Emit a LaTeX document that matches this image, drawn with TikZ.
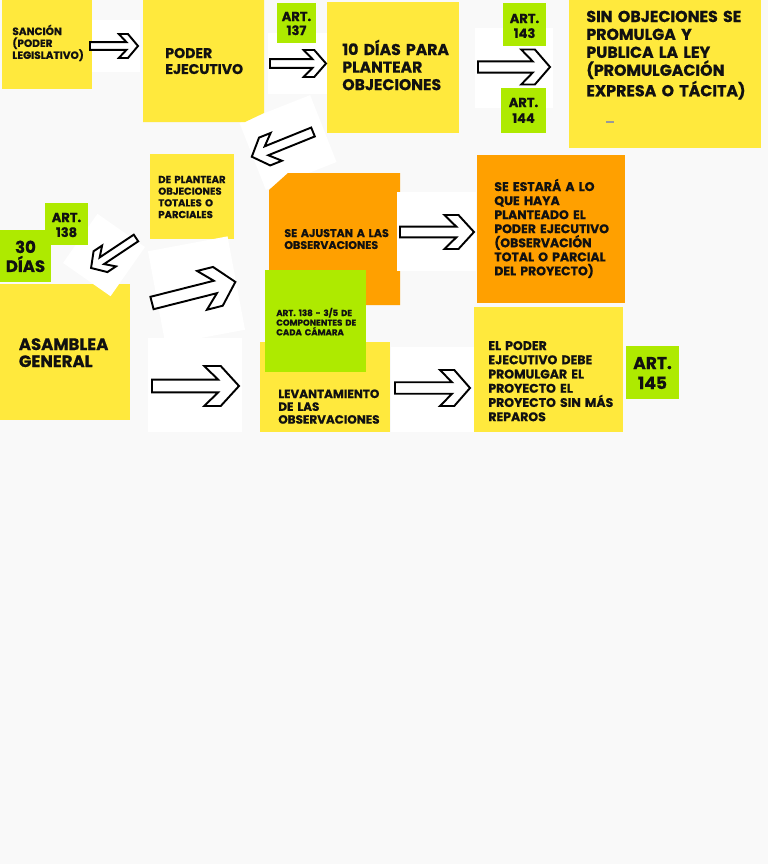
\documentclass[tikz,border=0pt]{standalone}
\usepackage{fontspec}
\setmainfont{Poppins}[BoldFeatures={FakeBold=0.7}]
\usepackage{tikz}

\definecolor{bg}{HTML}{F9F9F9}
\definecolor{yel}{HTML}{FFE93D}
\definecolor{org}{HTML}{FFA000}
\definecolor{grn}{HTML}{AEEA00}
\definecolor{ink}{HTML}{111111}

\tikzset{
  arrowline/.style={draw=black, fill=white, line width=1.1pt, line join=miter},
  lbl/.style={anchor=base west, inner sep=0pt, text width=6cm, align=left, text=ink},
  artlbl/.style={anchor=base, inner sep=0pt, text width=2cm, align=center, text=ink}
}

\begin{document}
\begin{tikzpicture}[scale=0.2]
\useasboundingbox (0,0) rectangle (76.8,-86.4);
\fill [bg] (0,0) rectangle (76.8,-86.4);
% notes under the patches
\fill [yel] (0,-28.4) rectangle (13.0,-42.0);
\fill [yel] (15.0,-15.4) rectangle (23.4,-23.9);
\fill [white, shift={(28.8,-14.25)}, rotate=21.5] (-3.8,-3.6) rectangle (3.8,3.6);
\fill [org] (26.9,-19.0) -- (28.8,-17.3) -- (40.0,-17.3) -- (40.0,-30.5) -- (26.9,-30.5) -- cycle;
% white patches
\fill [white] (8.8,-2.0) rectangle (14.0,-7.2);
\fill [white] (26.8,-3.3) rectangle (32.7,-9.4);
\fill [white] (47.5,-2.8) rectangle (55.3,-10.8);
\fill [white, shift={(10.4,-25.5)}, rotate=-35] (-2.9,-3.0) rectangle (2.9,3.0);
\fill [white, shift={(19.65,-29.05)}, rotate=10.6] (-4.05,-4.75) rectangle (4.05,4.75);
\fill [white] (14.8,-33.8) rectangle (24.2,-43.2);
\fill [white] (39.7,-19.2) rectangle (47.6,-27.1);
\fill [white] (39.1,-34.7) rectangle (47.4,-43.2);
% notes
\fill [yel] (0.2,0) rectangle (9.2,-8.9);
\fill [yel] (14.3,0) -- (26.4,0) -- (26.4,-11.3) -- (24.5,-12.2) -- (14.3,-12.2) -- cycle;
\fill [yel] (32.7,-0.2) rectangle (45.9,-13.3);
\fill [yel] (56.9,0) rectangle (76.1,-14.8);
\fill [org] (47.7,-15.5) rectangle (62.5,-30.3);
\fill [yel] (26.0,-34.2) rectangle (39.0,-43.2);
\fill [yel] (47.4,-30.7) rectangle (62.3,-43.2);
\fill [grn] (27.7,-0.3) rectangle (31.6,-4.3);
\fill [grn] (50.3,-0.3) rectangle (54.6,-4.6);
\fill [grn] (50.1,-8.8) rectangle (54.6,-13.3);
\fill [grn] (4.5,-20.3) rectangle (8.8,-24.5);
\fill [grn] (0,-23.0) rectangle (5.1,-28.2);
\fill [grn] (26.5,-27.0) rectangle (36.6,-37.2);
\fill [grn] (62.6,-34.6) rectangle (67.9,-39.9);
\draw [gray!80, line width=0.6pt] (60.6,-12.2) -- (61.4,-12.2);
% arrows: x/y of tail, angle, length, head height
\foreach \x/\y/\a/\l/\h in {9.0/-4.6/0/4.8/2.4, 27.0/-6.35/0/5.6/2.7, 47.8/-6.7/0/7.2/3.5,
    31.3/-13.2/202/6.6/3.0, 13.6/-23.8/213.7/5.4/2.5, 15.2/-30.3/14.2/8.6/4.0,
    15.2/-38.6/0/8.7/4.0, 40.0/-23.2/0/7.4/3.4, 39.5/-38.8/0/7.5/3.6}
  \draw [arrowline, shift={(\x,\y)}, rotate=\a, xscale=\l, yscale=\h]
    (0,0.16) -- (0.76,0.16) -- (0.6,0.5) -- (0.79,0.5) -- (1,0)
    -- (0.79,-0.5) -- (0.6,-0.5) -- (0.76,-0.16) -- (0,-0.16) -- cycle;
% texts
\node [lbl, font={\fontsize{6}{6.8}\selectfont\bfseries}] (sancion) at (1.2,-3.5) {SANCIÓN\\(PODER\\LEGISLATIVO)};
\node [lbl, font={\fontsize{8}{9.1}\selectfont\bfseries}] (poder) at (16.5,-5.8) {PODER\\EJECUTIVO};
\node [lbl, font={\fontsize{8.9}{10}\selectfont\bfseries}] (diez) at (34.2,-5.5) {10 DÍAS PARA\\PLANTEAR\\OBJECIONES};
\node [lbl, font={\fontsize{9}{10.2}\selectfont\bfseries}] (sinobj) at (58.6,-2.2) {SIN OBJECIONES SE\\PROMULGA Y\\PUBLICA LA LEY\\(PROMULGACIÓN\\EXPRESA O TÁCITA)};
\node [lbl, font={\fontsize{5.7}{6.65}\selectfont\bfseries}] (plantear) at (15.8,-18.3) {DE PLANTEAR\\OBJECIONES\\TOTALES O\\PARCIALES};
\node [lbl, font={\fontsize{6.3}{6.8}\selectfont\bfseries}] (ajustan) at (28.4,-23.7) {SE AJUSTAN A LAS\\OBSERVACIONES};
\node [lbl, font={\fontsize{7.1}{8}\selectfont\bfseries}] (estara) at (49.4,-19.1) {SE ESTARÁ A LO\\QUE HAYA\\PLANTEADO EL\\PODER EJECUTIVO\\(OBSERVACIÓN\\TOTAL O PARCIAL\\DEL PROYECTO)};
\node [lbl, font={\fontsize{9.4}{9.7}\selectfont\bfseries}] (asamblea) at (1.85,-35.0) {ASAMBLEA\\GENERAL};
\node [lbl, font={\fontsize{4.9}{5.5}\selectfont\bfseries}] (tresq) at (27.6,-31.6) {ART. 138 - 3/5 DE\\COMPONENTES DE\\CADA CÁMARA};
\node [lbl, font={\fontsize{6.8}{7.3}\selectfont\bfseries}] (levant) at (27.8,-39.8) {LEVANTAMIENTO\\DE LAS\\OBSERVACIONES};
\node [lbl, font={\fontsize{7.1}{8.1}\selectfont\bfseries}] (promul) at (48.8,-35.0) {EL PODER\\EJECUTIVO DEBE\\PROMULGAR EL\\PROYECTO EL\\PROYECTO SIN MÁS\\REPAROS};
\node [artlbl, font={\fontsize{7.4}{8}\selectfont\bfseries}] (art137) at (29.65,-2.1) {ART.\\137};
\node [artlbl, font={\fontsize{7.4}{8.5}\selectfont\bfseries}] (art143) at (52.45,-2.3) {ART.\\143};
\node [artlbl, font={\fontsize{7.4}{9}\selectfont\bfseries}] (art144) at (52.35,-10.7) {ART.\\144};
\node [artlbl, font={\fontsize{7.4}{8.5}\selectfont\bfseries}] (art138) at (6.65,-22.2) {ART.\\138};
\node [artlbl, font={\fontsize{9.4}{10.8}\selectfont\bfseries}] (treinta) at (2.55,-25.3) {30\\DÍAS};
\node [artlbl, font={\fontsize{9.7}{11.4}\selectfont\bfseries}] (art145) at (65.25,-36.9) {ART.\\145};
\end{tikzpicture}
\end{document}
